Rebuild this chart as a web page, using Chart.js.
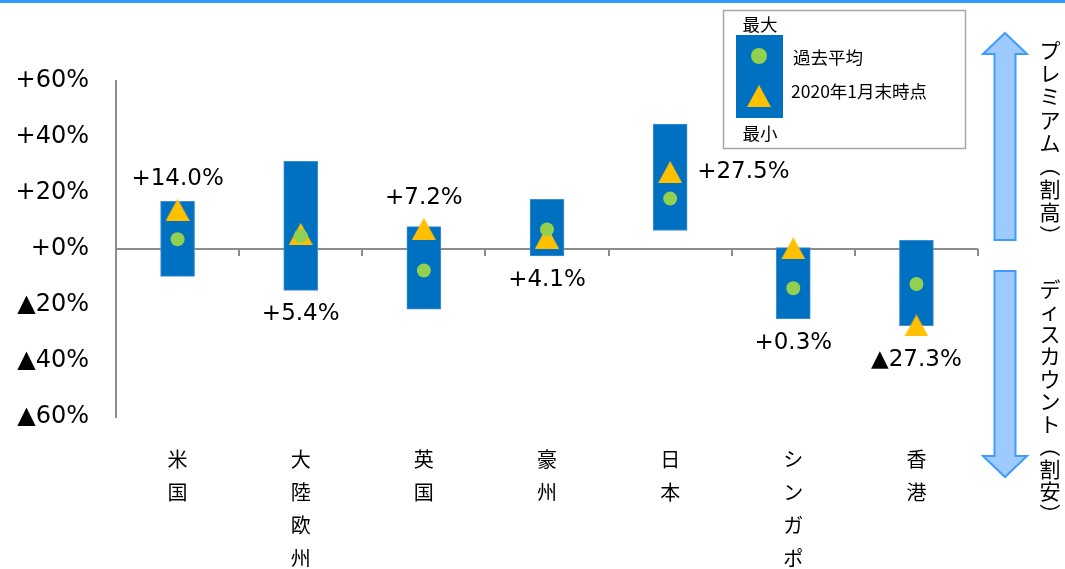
<!DOCTYPE html>
<html>
<head>
<meta charset="utf-8">
<script src="https://cdn.jsdelivr.net/npm/chart.js@4/dist/chart.umd.min.js"></script>
<style>
  body { margin: 0; background: #fff; }
</style>
</head>
<body>
<canvas id="premiumChart" width="1065" height="569"></canvas>
<script>
// values (%)
const countries = ['米国', '大陸欧州', '英国', '豪州', '日本', 'シンガポール', '香港'];
const rangeMax = [17.0, 31.3, 8.0, 17.7, 44.6, 0.5, 3.1];
const rangeMin = [-9.8, -14.8, -21.5, -2.5, 6.6, -25.0, -27.4];
const pastAverage = [3.5, 4.6, -7.7, 7.0, 18.0, -14.0, -12.5];
const jan2020 = [14.0, 5.4, 7.2, 4.1, 27.5, 0.3, -27.3];
const yTicks = [-60, -40, -20, 0, 20, 40, 60];
const labelSide = ['above', 'below', 'above', 'below', 'right', 'below', 'below'];
const legendTexts = ['最大', '過去平均', '2020年1月末時点', '最小'];
const premiumText = 'プレミアム（割高）';
const discountText = 'ディスカウント（割安）';

const BLUE = '#0070C0', GREEN = '#92D050', GOLD = '#FFC000', AXIS = '#8c8c8c';
const JP = '"Noto Sans CJK JP", "Noto Sans", sans-serif';
const NUM = '"DejaVu Sans", Verdana, sans-serif';

const fmtPct = (v, d) => (v < 0 ? '▲' + Math.abs(v).toFixed(d) : '+' + v.toFixed(d)) + '%';

// triangle marker, centred on its box like the excel one
const triImg = document.createElement('canvas');
triImg.width = 24; triImg.height = 22;
(function () {
  const t = triImg.getContext('2d');
  t.fillStyle = GOLD;
  t.beginPath(); t.moveTo(12, 0); t.lineTo(24, 22); t.lineTo(0, 22); t.closePath(); t.fill();
})();

function vText(ctx, str, x, y0, step) {
  [...str].forEach((ch, i) => {
    const y = y0 + i * step;
    if (ch === '（' || ch === '）') {
      ctx.save(); ctx.translate(x, y); ctx.rotate(Math.PI / 2);
      ctx.fillText(ch, 0, 0); ctx.restore();
    } else {
      ctx.fillText(ch, x, y);
    }
  });
}

function arrow(ctx, up, top, bottom) {
  const cx = 1005, hw = 22, sw = 10.5, head = 21;
  ctx.beginPath();
  if (up) {
    ctx.moveTo(cx, top); ctx.lineTo(cx + hw, top + head); ctx.lineTo(cx + sw, top + head);
    ctx.lineTo(cx + sw, bottom); ctx.lineTo(cx - sw, bottom); ctx.lineTo(cx - sw, top + head);
    ctx.lineTo(cx - hw, top + head);
  } else {
    ctx.moveTo(cx - sw, top); ctx.lineTo(cx + sw, top); ctx.lineTo(cx + sw, bottom - head);
    ctx.lineTo(cx + hw, bottom - head); ctx.lineTo(cx, bottom); ctx.lineTo(cx - hw, bottom - head);
    ctx.lineTo(cx - sw, bottom - head);
  }
  ctx.closePath();
  ctx.fillStyle = '#9DCBFF'; ctx.fill();
  ctx.strokeStyle = '#3F9BFF'; ctx.lineWidth = 2; ctx.stroke();
}

const extras = {
  id: 'extras',
  beforeDatasetsDraw(chart) {
    const ctx = chart.ctx, x = chart.scales.x, y = chart.scales.y;
    const y0 = y.getPixelForValue(0);
    ctx.save();
    ctx.strokeStyle = AXIS; ctx.lineWidth = 2;
    for (let i = 0; i < countries.length; i++) {
      const bx = Math.round((x.getPixelForValue(i) + x.getPixelForValue(i + 1)) / 2);
      ctx.beginPath(); ctx.moveTo(bx, y0); ctx.lineTo(bx, y0 + 7); ctx.stroke();
    }
    ctx.restore();
  },
  afterDraw(chart) {
    const ctx = chart.ctx, y = chart.scales.y;
    const bars = chart.getDatasetMeta(0).data;
    ctx.save();
    // top rule
    ctx.fillStyle = '#3399FF';
    ctx.fillRect(0, 0, chart.width, 3);

    // data labels for the jan-2020 values
    ctx.fillStyle = '#000';
    ctx.font = '23px ' + NUM;
    ctx.textBaseline = 'middle';
    jan2020.forEach((v, i) => {
      const b = bars[i];
      const ty = y.getPixelForValue(v);
      const txt = fmtPct(v, 1);
      if (labelSide[i] === 'above') {
        ctx.textAlign = 'center'; ctx.fillText(txt, b.x, ty - 31);
      } else if (labelSide[i] === 'below') {
        ctx.textAlign = 'center';
        ctx.fillText(txt, b.x, Math.max(b.y, b.base, ty + 11) + 24);
      } else {
        ctx.textAlign = 'left'; ctx.fillText(txt, b.x + b.width / 2 + 10, ty);
      }
    });

    // legend box
    ctx.strokeStyle = '#a6a6a6'; ctx.lineWidth = 1.5;
    ctx.strokeRect(723.5, 10.5, 242, 138);
    ctx.fillStyle = BLUE; ctx.fillRect(736, 35, 47, 83);
    ctx.fillStyle = GREEN;
    ctx.beginPath(); ctx.arc(759, 56, 8, 0, Math.PI * 2); ctx.fill();
    ctx.drawImage(triImg, 759 - 12, 96 - 11);
    ctx.fillStyle = '#000'; ctx.font = '17.5px ' + JP;
    ctx.textAlign = 'center';
    ctx.fillText(legendTexts[0], 760, 24);
    ctx.fillText(legendTexts[3], 760, 133);
    ctx.textAlign = 'left';
    ctx.fillText(legendTexts[1], 793, 57);
    ctx.fillText(legendTexts[2], 791, 91);

    // premium / discount arrows
    arrow(ctx, true, 33, 240);
    arrow(ctx, false, 271, 477);
    ctx.fillStyle = '#000'; ctx.font = '21px ' + JP; ctx.textAlign = 'center';
    vText(ctx, premiumText, 1050, 50, 23.2);
    vText(ctx, discountText, 1050, 289, 22.5);
    ctx.restore();
  }
};

new Chart(document.getElementById('premiumChart'), {
  data: {
    labels: countries,
    datasets: [
      { type: 'bar', label: '最大〜最小', data: rangeMin.map((v, i) => [v, rangeMax[i]]),
        backgroundColor: BLUE, borderColor: '#3f8fd8', borderWidth: 1, borderSkipped: false,
        barThickness: 34, order: 2 },
      { type: 'line', label: '2020年1月末時点', data: jan2020, showLine: false,
        pointStyle: triImg, pointRadius: 12, order: 1 },
      { type: 'line', label: '過去平均', data: pastAverage, showLine: false,
        pointStyle: 'circle', pointRadius: 7, pointBackgroundColor: GREEN, pointBorderWidth: 0, order: 0 }
    ]
  },
  options: {
    responsive: false,
    animation: false,
    devicePixelRatio: 1,
    layout: { padding: { left: 0, right: 87, top: 81, bottom: 0 } },
    plugins: { legend: { display: false }, tooltip: { enabled: false } },
    scales: {
      x: {
        grid: { display: false, drawTicks: false },
        border: { display: false },
        afterFit: s => { s.height = 152; },
        ticks: {
          autoSkip: false, maxRotation: 0, padding: 26, color: '#000',
          font: { family: JP, size: 20, lineHeight: 1.65 },
          callback: (v, i) => [...countries[i]].slice(0, 4)
        }
      },
      y: {
        min: -60, max: 60,
        afterBuildTicks: s => { s.ticks = yTicks.map(v => ({ value: v })); },
        afterFit: s => { s.width = 116; },
        grid: { drawTicks: false, lineWidth: 2,
          color: c => (c.tick && c.tick.value === 0 ? AXIS : 'rgba(0,0,0,0)') },
        border: { display: true, color: AXIS, width: 2 },
        ticks: { padding: 27, color: '#000', font: { family: NUM, size: 24 },
          callback: v => fmtPct(v, 0) }
      }
    }
  },
  plugins: [extras]
});
</script>
</body>
</html>
